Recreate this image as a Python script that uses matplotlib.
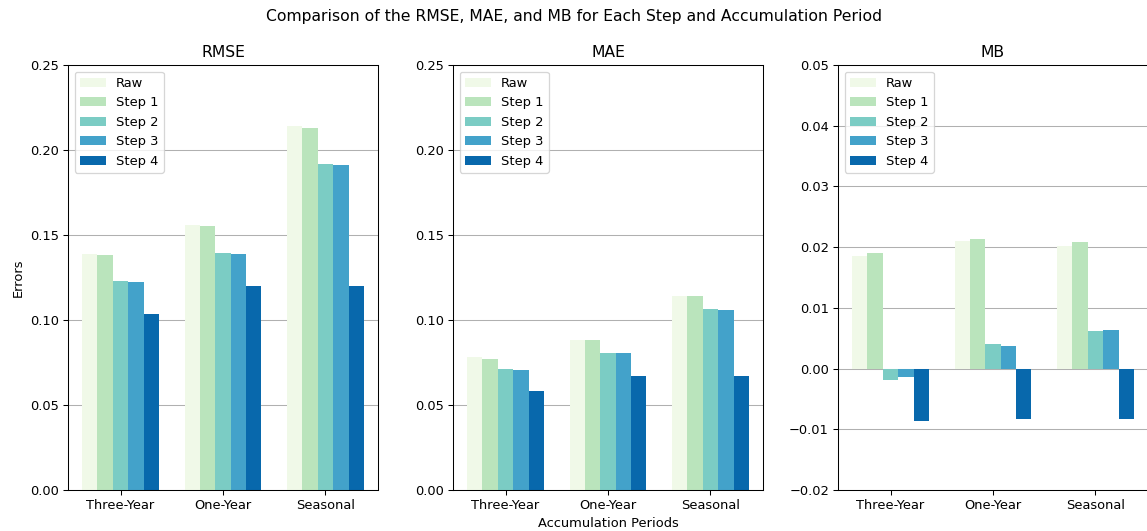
import numpy as np
import matplotlib
matplotlib.use("Agg")
import matplotlib.pyplot as plt

periods = ["Three-Year", "One-Year", "Seasonal"]
series_names = ["Raw", "Step 1", "Step 2", "Step 3", "Step 4"]
colors = ["#f0f9e8", "#bae4bc", "#7bccc4", "#43a2ca", "#0868ac"]

rmse_raw = [0.1388, 0.1558, 0.2140]
rmse_step1 = [0.1382, 0.1552, 0.2131]
rmse_step2 = [0.1230, 0.1392, 0.1918]
rmse_step3 = [0.1222, 0.1390, 0.1910]
rmse_step4 = [0.1038, 0.1200, 0.1200]

mae_raw = [0.0780, 0.0881, 0.1142]
mae_step1 = [0.0772, 0.0880, 0.1141]
mae_step2 = [0.0711, 0.0804, 0.1066]
mae_step3 = [0.0703, 0.0803, 0.1058]
mae_step4 = [0.0581, 0.0672, 0.0672]

mb_raw = [0.0186, 0.0210, 0.0202]
mb_step1 = [0.0190, 0.0214, 0.0208]
mb_step2 = [-0.0018, 0.0040, 0.0062]
mb_step3 = [-0.0014, 0.0038, 0.0064]
mb_step4 = [-0.0087, -0.0083, -0.0083]

panels = [
    ("RMSE", [rmse_raw, rmse_step1, rmse_step2, rmse_step3, rmse_step4], (0, 0.25)),
    ("MAE", [mae_raw, mae_step1, mae_step2, mae_step3, mae_step4], (0, 0.25)),
    ("MB", [mb_raw, mb_step1, mb_step2, mb_step3, mb_step4], (-0.02, 0.05)),
]

W, H = 1147, 531
DPI = 93.6
fig = plt.figure(figsize=(W / DPI, H / DPI), dpi=DPI)
lefts = [68, 453, 838]
bottom = 1 - 490 / H
height = (490 - 65) / H
width = 310 / W

x = np.arange(len(periods))
bw = 0.15
axes = []
for i, (title, data, ylim) in enumerate(panels):
    ax = fig.add_axes([lefts[i] / W, bottom, width, height])
    axes.append(ax)
    for j, (name, vals) in enumerate(zip(series_names, data)):
        ax.bar(x + (j - 2) * bw, vals, bw, color=colors[j], label=name, zorder=2)
    ax.set_xticks(x)
    ax.set_xticklabels(periods)
    ax.set_ylim(*ylim)
    ax.set_title(title)
    ax.grid(axis="y", zorder=0)
    ax.set_axisbelow(True)
    ax.legend(loc="upper left")

axes[0].set_ylabel("Errors")
axes[1].set_xlabel("Accumulation Periods")
fig.suptitle("Comparison of the RMSE, MAE, and MB for Each Step and Accumulation Period",
             y=1 - 16 / H, va="center")

fig.savefig("out.png", dpi=DPI)
